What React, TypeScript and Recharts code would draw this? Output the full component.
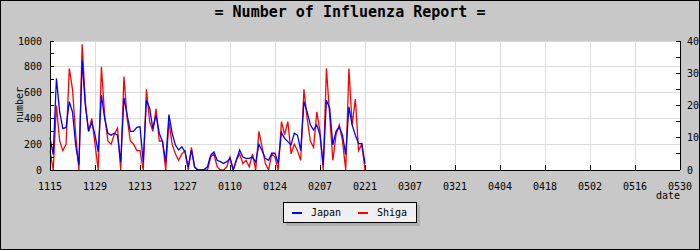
import { LineChart, Line, XAxis, YAxis, CartesianGrid } from "recharts";

// tick labels every 14 days, from 15 Nov to 30 May
const dateLabels = [
  "1115", "1129", "1213", "1227", "0110", "0124", "0207", "0221",
  "0307", "0321", "0404", "0418", "0502", "0516", "0530",
];

// daily reports, starting 1115 (Japan on the left axis)
const japan = [
  250, 120, 710, 450, 320, 330, 530, 450, 190, 40,
  850, 500, 300, 370, 270, 140, 580, 400, 285, 270,
  285, 270, 60, 560, 425, 300, 300, 330, 335, 60,
  540, 480, 320, 425, 285, 220, 60, 430, 285, 195,
  155, 180, 140, 25, 155, 20, 0, 0, 5, 25,
  115, 140, 75, 65, 50, 65, 90, 0, 80, 155,
  100, 90, 90, 100, 60, 200, 150, 90, 75, 130,
  130, 50, 290, 245, 220, 195, 285, 270, 150, 530,
  450, 350, 310, 350, 270, 40, 540, 480, 195, 300,
  335, 270, 120, 490, 350, 270, 205, 205, 50,
];

// Shiga on the right axis
const shiga = [
  6, 0, 20, 9, 6, 8, 31.5, 25, 11, 0,
  39, 21, 12, 16, 8, 0, 32, 17, 9, 8,
  11, 13, 0, 29, 16, 9, 8, 6, 6, 0,
  25, 15, 12, 19, 9, 9, 0, 15, 8, 5,
  3, 5, 6, 0, 7, 1, 0, 0, 0, 0,
  4, 5, 1, 0, 0, 1, 4, 0, 3, 5,
  2, 3, 1, 5, 0, 12, 7, 2, 0, 5,
  4, 0, 15, 11, 15, 5, 8, 6, 3, 25,
  16, 9, 7, 18, 12, 0, 31.5, 17, 3, 11,
  14, 9, 0, 31.5, 14, 22, 6, 8, 0,
];

const leftTicks = [0, 100, 200, 300, 400, 500, 600, 700, 800, 900, 1000];
const rightTicks = [0, 5, 10, 15, 20, 25, 30, 35, 40];
const dayTicks = dateLabels.map((_, i) => i * 14);

const data = japan.map((v, i) => ({ day: i, japan: v, shiga: shiga[i] }));

const mono = "'DejaVu Sans Mono', monospace";

function LeftTick(props: any) {
  const { x, y, payload } = props;
  return (
    <g>
      <line x1={x + 8} x2={x + 12} y1={y} y2={y} stroke="#000" shapeRendering="crispEdges" />
      {payload.value % 200 === 0 && (
        <text x={x} y={y} textAnchor="end" dominantBaseline="central" fontFamily={mono} fontSize={10} fill="#000">
          {payload.value}
        </text>
      )}
    </g>
  );
}

function RightTick(props: any) {
  const { x, y, payload } = props;
  return (
    <g>
      <line x1={x - 7} x2={x - 11} y1={y} y2={y} stroke="#000" shapeRendering="crispEdges" />
      {payload.value % 10 === 0 && (
        <text x={x} y={y} textAnchor="start" dominantBaseline="central" fontFamily={mono} fontSize={10} fill="#000">
          {payload.value}
        </text>
      )}
    </g>
  );
}

function BottomTick(props: any) {
  const { x, y, payload } = props;
  return (
    <g>
      <line x1={x} x2={x} y1={y - 13} y2={y - 18} stroke="#000" shapeRendering="crispEdges" />
      <text x={x} y={y + 3} textAnchor="middle" dominantBaseline="central" fontFamily={mono} fontSize={10} fill="#000">
        {dateLabels[payload.value / 14]}
      </text>
    </g>
  );
}

export default function App() {
  return (
    <div
      style={{
        position: "fixed",
        left: 0,
        top: 0,
        width: 700,
        height: 250,
        background: "#c8c8c8",
        boxShadow: "inset 0 0 0 1px #000",
        fontFamily: mono,
      }}
    >
      <div
        style={{
          position: "absolute",
          top: 5,
          left: 0,
          width: 700,
          textAlign: "center",
          fontSize: 15,
          lineHeight: "15px",
          fontWeight: "bold",
        }}
      >
        = Number of Influenza Report =
      </div>
      <div
        style={{
          position: "absolute",
          left: 20,
          top: 105,
          fontSize: 10,
          lineHeight: "10px",
          transform: "translate(-50%, -50%) rotate(-90deg)",
        }}
      >
        number
      </div>
      <div style={{ position: "absolute", left: 656, top: 191, fontSize: 10, lineHeight: "10px" }}>date</div>

      <div style={{ position: "absolute", left: 0, top: 0 }}>
        <LineChart width={700} height={250} data={data} margin={{ top: 41, right: 0, bottom: 50, left: 10 }}>
          <CartesianGrid
            yAxisId="L"
            stroke="#dcdcdc"
            fill="#fff"
            horizontalValues={[200, 400, 600, 800, 1000]}
            verticalValues={dayTicks}
            shapeRendering="crispEdges"
          />
          <XAxis
            dataKey="day"
            type="number"
            domain={[0, 196]}
            ticks={dayTicks}
            interval={0}
            height={30}
            tickSize={0}
            tickMargin={13}
            tick={<BottomTick />}
            axisLine={{ stroke: "#000", shapeRendering: "crispEdges" }}
          />
          <YAxis
            yAxisId="L"
            domain={[0, 1000]}
            ticks={leftTicks}
            interval={0}
            width={40}
            tickSize={0}
            tickMargin={8}
            tick={<LeftTick />}
            axisLine={{ stroke: "#000", shapeRendering: "crispEdges" }}
          />
          <YAxis
            yAxisId="R"
            orientation="right"
            domain={[0, 40]}
            ticks={rightTicks}
            interval={0}
            width={20}
            tickSize={0}
            tickMargin={7}
            tick={<RightTick />}
            axisLine={{ stroke: "#000", shapeRendering: "crispEdges" }}
          />
          <Line
            yAxisId="R"
            dataKey="shiga"
            type="linear"
            stroke="#ff0000"
            strokeWidth={1.3}
            dot={false}
            isAnimationActive={false}
          />
          <Line
            yAxisId="L"
            dataKey="japan"
            type="linear"
            stroke="#0000ff"
            strokeWidth={1.3}
            dot={false}
            isAnimationActive={false}
          />
        </LineChart>
      </div>

      {/* legend */}
      <div
        style={{
          position: "absolute",
          left: 283,
          top: 202,
          width: 134,
          height: 21,
          boxSizing: "border-box",
          background: "#f0f0f0",
          border: "1px solid #000",
          boxShadow: "3px 3px 0 #b0b0b0",
          fontSize: 10,
        }}
      >
        <div style={{ position: "absolute", left: 8, top: 9, width: 10, height: 2, background: "#0000ff" }} />
        <div style={{ position: "absolute", left: 27, top: 4, lineHeight: "12px" }}>Japan</div>
        <div style={{ position: "absolute", left: 74, top: 9, width: 10, height: 2, background: "#ff0000" }} />
        <div style={{ position: "absolute", left: 93, top: 4, lineHeight: "12px" }}>Shiga</div>
      </div>
    </div>
  );
}
